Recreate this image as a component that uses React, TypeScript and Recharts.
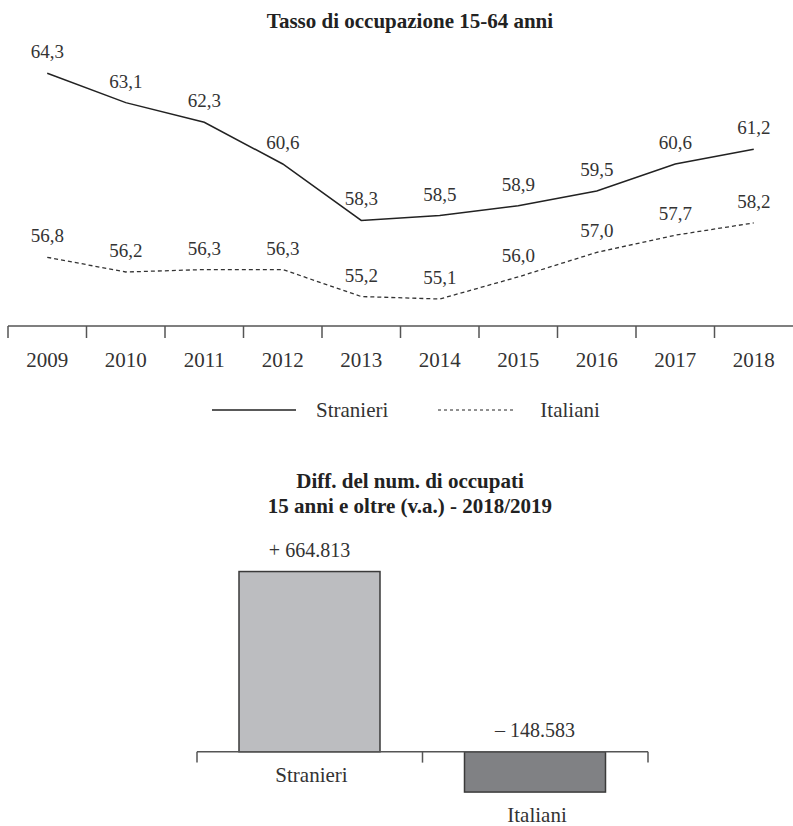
import { LineChart, Line, XAxis, YAxis, LabelList, Legend, BarChart, Bar, Cell, ReferenceLine } from "recharts";

// Tasso di occupazione 15-64 anni
const years = ["2009", "2010", "2011", "2012", "2013", "2014", "2015", "2016", "2017", "2018"];
const seriesNames = ["Stranieri", "Italiani"];
const stranieri = [64.3, 63.1, 62.3, 60.6, 58.3, 58.5, 58.9, 59.5, 60.6, 61.2];
const italiani = [56.8, 56.2, 56.3, 56.3, 55.2, 55.1, 56.0, 57.0, 57.7, 58.2];
const rateDomain = [54, 65];

// Diff. del num. di occupati 2018/2019
const diffGroups = ["Stranieri", "Italiani"];
const diffValues = [664813, -148583];
const diffDomain = [-200000, 700000];
const tickDepth = 40000;

const lineData = years.map((year, i) => ({ year, Stranieri: stranieri[i], Italiani: italiani[i] }));
const barData = diffGroups.map((name, i) => ({ name, value: diffValues[i] }));

const W = 793;
const FONT = '"Liberation Serif", "Times New Roman", serif';
const TEXT = "#333";
const AXIS = "#555";
const LINE_MARGIN = { top: 56, right: 0, left: 8, bottom: 63 };
const BAND = (W - LINE_MARGIN.left - LINE_MARGIN.right) / years.length;
const barFills = ["#bcbdc0", "#808184"];

const fmtRate = (v: number) => v.toFixed(1).replace(".", ",");
const fmtDiff = (v: number) => {
  const s = String(Math.abs(v)).replace(/\B(?=(\d{3})+(?!\d))/g, ".");
  return (v < 0 ? "\u2013 " : "+ ") + s;
};

function YearTick(props: any) {
  const { x, y, payload } = props;
  return (
    <g>
      <line x1={x - BAND / 2} x2={x - BAND / 2} y1={y} y2={y + 12} stroke={AXIS} strokeWidth={1.5} />
      <text x={x} y={y + 41} textAnchor="middle" fontSize={21} fontFamily={FONT} fill={TEXT}>
        {payload.value}
      </text>
    </g>
  );
}

function LineLegend(props: any) {
  const items = [...(props.payload || [])].sort(
    (a: any, b: any) => seriesNames.indexOf(a.value) - seriesNames.indexOf(b.value)
  );
  return (
    <div style={{ display: "flex", alignItems: "center", paddingLeft: 212, height: 24, fontSize: 21, fontFamily: FONT, color: TEXT }}>
      {items.map((it: any, i: number) => {
        const dashed = it.payload && it.payload.strokeDasharray;
        const len = dashed ? 76 : 84;
        return (
          <div key={it.value} style={{ display: "flex", alignItems: "center", marginLeft: i === 0 ? 0 : 50 }}>
            <svg width={len} height={6}>
              <line x1={0} x2={len} y1={3} y2={3} stroke="#222" strokeWidth={dashed ? 1 : 1.5} strokeDasharray={dashed ? "3 3" : undefined} />
            </svg>
            <span style={{ marginLeft: dashed ? 26 : 20 }}>{it.value}</span>
          </div>
        );
      })}
    </div>
  );
}

function DiffBar(props: any) {
  const { x, y, width, height, fill, payload } = props;
  const top = Math.min(y, y + height);
  const bottom = Math.max(y, y + height);
  const cx = x + width / 2;
  return (
    <g>
      <rect x={x} y={top} width={width} height={bottom - top} fill={fill} stroke="#3a3a3a" strokeWidth={1.5} />
      <text x={cx} y={top - 15} textAnchor="middle" fontSize={20} fontFamily={FONT} fill={TEXT}>
        {fmtDiff(payload.value)}
      </text>
      <text x={cx + 2} y={bottom + 30} textAnchor="middle" fontSize={21} fontFamily={FONT} fill={TEXT}>
        {payload.name}
      </text>
    </g>
  );
}

const titleStyle = {
  position: "absolute" as const,
  left: 0,
  width: 820,
  textAlign: "center" as const,
  fontWeight: 700,
  fontSize: 21,
  lineHeight: "25px",
  color: "#222",
  fontFamily: FONT,
};

export default function App() {
  const lastGroup = diffGroups[diffGroups.length - 1];
  return (
    <div style={{ position: "absolute", left: 0, top: 0, width: W, height: 826, background: "#fff", fontFamily: FONT }}>
      <div style={{ ...titleStyle, top: 9 }}>Tasso di occupazione 15-64 anni</div>

      <div style={{ position: "absolute", left: 0, top: 0 }}>
        <LineChart width={W} height={440} data={lineData} margin={LINE_MARGIN}>
          <XAxis
            dataKey="year"
            scale="band"
            interval={0}
            height={51}
            axisLine={{ stroke: AXIS, strokeWidth: 1.5 }}
            tickLine={false}
            tickSize={0}
            tickMargin={0}
            tick={<YearTick />}
          />
          <YAxis hide domain={rateDomain} />
          <Legend
            layout="horizontal"
            verticalAlign="middle"
            align="center"
            wrapperStyle={{ top: 398, left: 0, width: W }}
            content={<LineLegend />}
          />
          <Line dataKey="Stranieri" stroke="#222" strokeWidth={1.5} dot={false} isAnimationActive={false}>
            <LabelList
              dataKey="Stranieri"
              position="top"
              offset={15}
              fontSize={19}
              fontFamily={FONT}
              fill={TEXT}
              formatter={(v: any) => fmtRate(Number(v))}
            />
          </Line>
          <Line
            dataKey="Italiani"
            stroke="#333"
            strokeWidth={1.3}
            strokeDasharray="4 3"
            dot={false}
            isAnimationActive={false}
          >
            <LabelList
              dataKey="Italiani"
              position="top"
              offset={15}
              fontSize={19}
              fontFamily={FONT}
              fill={TEXT}
              formatter={(v: any) => fmtRate(Number(v))}
            />
          </Line>
        </LineChart>
      </div>

      <div style={{ ...titleStyle, top: 469 }}>
        Diff. del num. di occupati
        <br />
        15 anni e oltre (v.a.) - 2018/2019
      </div>

      <div style={{ position: "absolute", left: 0, top: 440 }}>
        <BarChart width={W} height={386} data={barData} margin={{ top: 122, right: 145, left: 197, bottom: 20 }}>
          <XAxis dataKey="name" hide />
          <YAxis hide domain={diffDomain} />
          <Bar dataKey="value" barSize={141} shape={<DiffBar />} isAnimationActive={false}>
            {barData.map((d, i) => (
              <Cell key={d.name} fill={barFills[i]} />
            ))}
          </Bar>
          <ReferenceLine y={0} stroke={AXIS} strokeWidth={1.5} />
          {diffGroups.map((g) => (
            <ReferenceLine
              key={g}
              segment={[{ x: g, y: 0 }, { x: g, y: -tickDepth }]}
              position="start"
              stroke={AXIS}
              strokeWidth={1.5}
            />
          ))}
          <ReferenceLine
            segment={[{ x: lastGroup, y: 0 }, { x: lastGroup, y: -tickDepth }]}
            position="end"
            stroke={AXIS}
            strokeWidth={1.5}
          />
        </BarChart>
      </div>
    </div>
  );
}
